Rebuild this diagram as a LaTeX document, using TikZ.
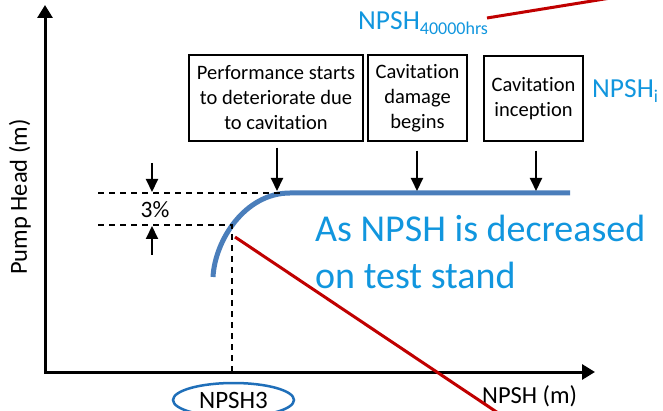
\documentclass[tikz,border=0pt]{standalone}
\usepackage{fontspec}
\setmainfont{Carlito}[Ligatures={NoCommon}]
\usetikzlibrary{arrows.meta,shapes.geometric}
\definecolor{curveblue}{RGB}{74,126,187}
\definecolor{textblue}{RGB}{17,150,222}
\definecolor{ellblue}{RGB}{31,111,185}
\definecolor{darkred}{RGB}{192,0,0}
\begin{document}
\begin{tikzpicture}[x=1pt,y=-1pt,
  axisline/.style={line width=3pt, line join=miter, {Triangle[width=15pt,length=13pt]}-{Triangle[width=15pt,length=13pt]}},
  pointer/.style={line width=2pt, -{Triangle[width=12pt,length=13pt]}},
  guide/.style={line width=1.5pt, dash pattern=on 6pt off 5pt},
  boxnode/.style={draw, line width=1.5pt, align=center, inner sep=0pt, font=\fontsize{20.5}{25}\selectfont},
  lbl/.style={inner sep=0pt, font=\fontsize{24.5}{28}\selectfont},
  bluelbl/.style={inner sep=0pt, text=textblue, anchor=base west},
  redline/.style={darkred, line width=3pt},
  curve/.style={curveblue, line width=5pt}]
\useasboundingbox (0,0) rectangle (663,411);
\clip (0,0) rectangle (663,411);
% axes
\coordinate (ytop) at (45,5);
\coordinate (O) at (45,372);
\coordinate (xend) at (595,372);
\draw[axisline] (ytop) -- (O) -- (xend);
\node[lbl, rotate=90] (ylab) at (20,197) {Pump Head (m)};
\node[lbl, anchor=base west] (xlab) at (482,403) {NPSH (m)};
% boxes
\node[boxnode, minimum width=174pt, minimum height=86pt] (b1) at (276,98) {Performance starts\\to deteriorate due\\to cavitation};
\node[boxnode, minimum width=99pt, minimum height=86pt] (b2) at (417.5,98) {Cavitation\\damage\\begins};
\node[boxnode, minimum width=99pt, minimum height=85pt] (b3) at (533.5,98.5) {Cavitation\\inception};
% curve
\coordinate (cs) at (213,277);
\coordinate (cb) at (290,193);
\coordinate (ce) at (570,193);
\draw[curve] (cs) .. controls (215,240) and (245,193) .. (cb) -- (ce);
% guide lines
\coordinate (g1) at (98,193);
\coordinate (g1e) at (280,193);
\coordinate (g2) at (98,225);
\coordinate (k) at (232,225);
\coordinate (kx) at (232,372);
\draw[guide] (g1) -- (g1e);
\draw[guide] (g2) -- (k) -- (kx);
% pointers from boxes
\coordinate (p1) at (277,191);
\coordinate (p2) at (417,191);
\coordinate (p3) at (536,191);
\draw[pointer, shorten <=6pt] (b1.south -| p1) -- (p1);
\draw[pointer, shorten <=9pt] (b2.south -| p2) -- (p2);
\draw[pointer, shorten <=9pt] (b3.south -| p3) -- (p3);
% 3% marker
\coordinate (t1) at (152,163);
\coordinate (t1e) at (152,192);
\coordinate (t2) at (152,255);
\coordinate (t2e) at (152,226);
\draw[pointer] (t1) -- (t1e);
\draw[pointer] (t2) -- (t2e);
\node[lbl, font=\fontsize{23.5}{26}\selectfont] (pct) at (155,210) {3\%};
% NPSH3
\node[draw=ellblue, line width=2.5pt, ellipse, minimum width=121pt, minimum height=34pt, inner sep=0pt, font=\fontsize{25}{28}\selectfont] (n3) at (233.5,400) {NPSH3};
% red lines
\coordinate (r1s) at (235,237);
\coordinate (r1e) at (540,441);
\coordinate (r2s) at (487,18);
\coordinate (r2e) at (660,-10);
\draw[redline] (r1s) -- (r1e);
\draw[redline] (r2s) -- (r2e);
% blue texts
\node[bluelbl, font=\fontsize{27.5}{30}\selectfont] (n40) at (358,30) {NPSH{\fontsize{18}{20}\selectfont\raisebox{-5pt}{40000hrs}}};
\node[bluelbl, font=\fontsize{27.5}{30}\selectfont] (ni) at (592,98) {NPSH{\fontsize{18}{20}\selectfont\raisebox{-5pt}{i}}};
\node[bluelbl, font=\fontsize{38}{40}\selectfont] (as1) at (315,242) {As NPSH is decreased};
\node[bluelbl, font=\fontsize{38}{40}\selectfont] (as2) at (315,288) {on test stand};
\end{tikzpicture}
\end{document}
